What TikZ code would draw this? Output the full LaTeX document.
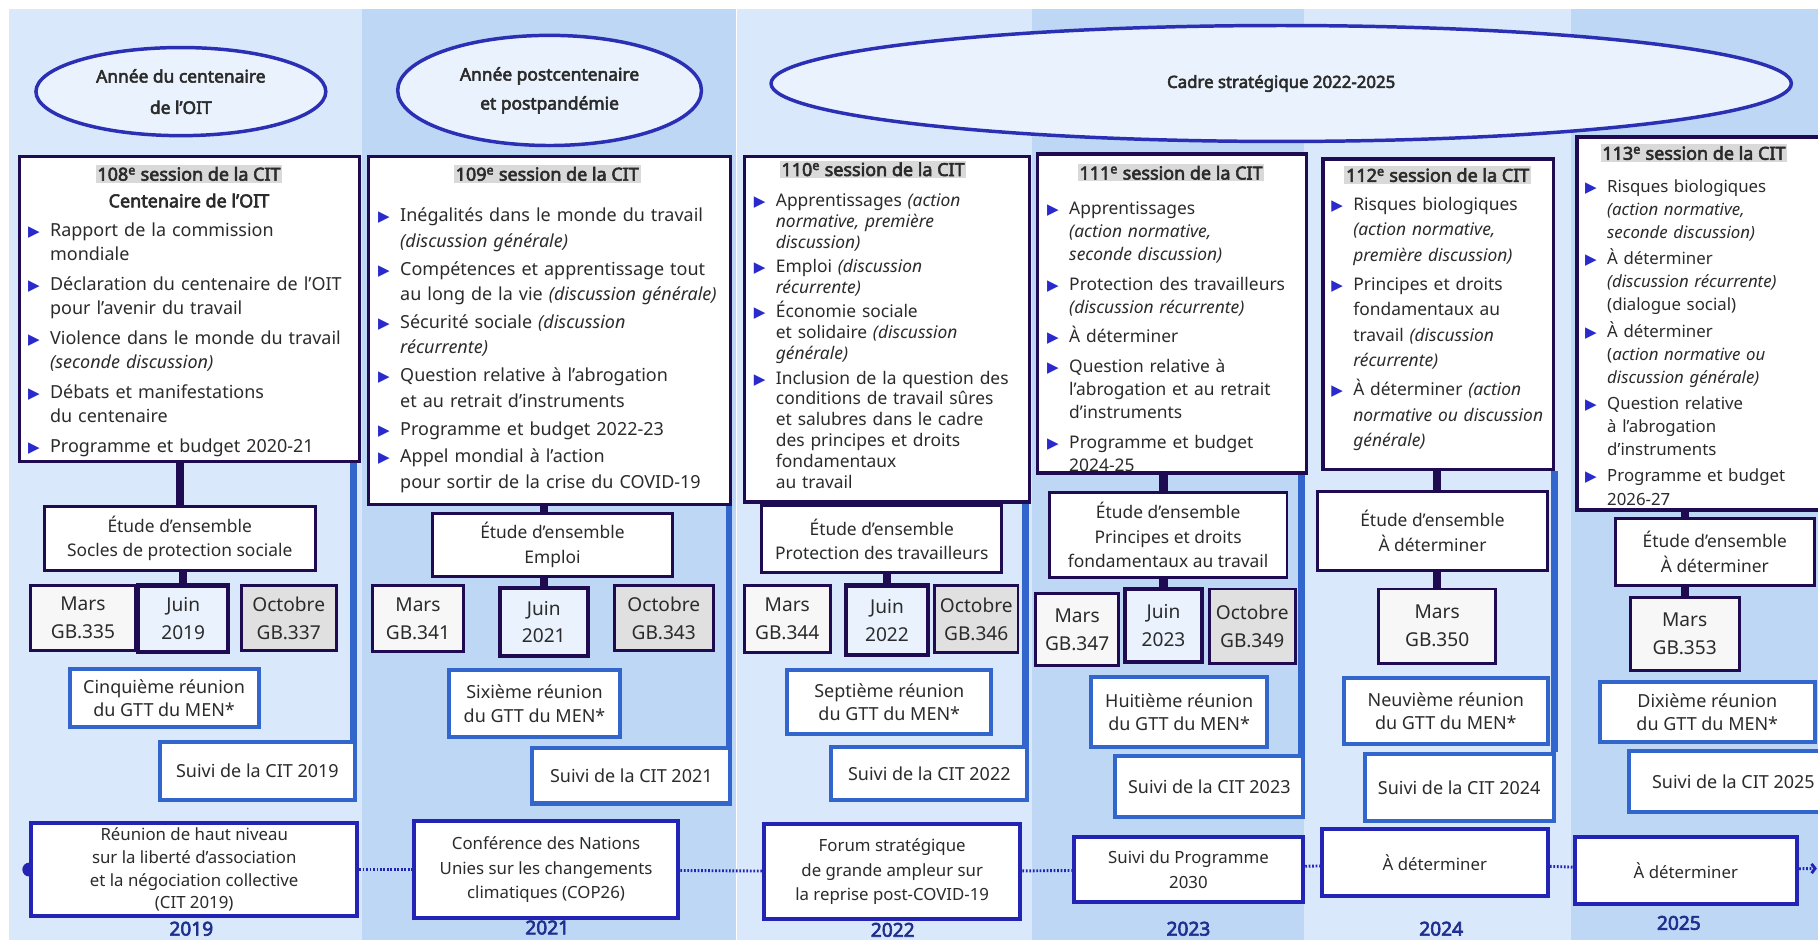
\documentclass[tikz,border=0pt]{standalone}
\usepackage{fontspec}
\setmainfont{Noto Sans}[AutoFakeBold=3.2]
\newfontfamily\trifont{DejaVu Sans}
\usetikzlibrary{fit,shapes.geometric,arrows.meta}

\definecolor{bglight}{HTML}{DAE8FC}
\definecolor{bgdark}{HTML}{BDD7F5}
\definecolor{ellfill}{HTML}{EAF3FD}
\definecolor{ellline}{HTML}{2B2FB3}
\definecolor{sessline}{HTML}{1F0B52}
\definecolor{titlegray}{HTML}{D9D9D9}
\definecolor{tri}{HTML}{2A2ACC}
\definecolor{gttline}{HTML}{3366CC}
\definecolor{botline}{HTML}{2323B5}
\definecolor{yearc}{HTML}{1F2F8F}
\definecolor{marsfill}{HTML}{F7F7F7}
\definecolor{juinfill}{HTML}{EAF3FD}
\definecolor{octfill}{HTML}{E0E0E0}
\definecolor{txt}{HTML}{2B2B2B}

% one bullet of a session list
\newcommand{\itm}[1]{\par\hangindent=19pt\hangafter=1\noindent
  \hbox to 19pt{\textcolor{tri}{\trifont\fontsize{13}{13}\selectfont ▶}\hfil}#1}

\pgfdeclarelayer{bg}
\pgfsetlayers{bg,main}

\begin{document}
\begin{tikzpicture}[x=1pt,y=-1pt,
  sz/.style 2 args={minimum width=#1pt,minimum height=#2pt},
  ell/.style={ellipse,draw=ellline,line width=3pt,fill=ellfill,inner sep=0pt,align=center,text=txt,font=\bfseries\fontsize{15}{27}\selectfont},
  sess/.style={draw=sessline,line width=3pt,fill=white,inner sep=0pt},
  ttl/.style={fill=titlegray,inner sep=1.5pt,text=txt,font=\bfseries\fontsize{15.5}{18}\selectfont},
  items/.style={anchor=north west,inner sep=0pt,align=left,text=txt},
  etude/.style={draw=sessline,line width=2.5pt,fill=white,inner sep=0pt,align=center,text=txt,font=\fontsize{15}{21}\selectfont},
  month/.style={draw=sessline,line width=2.5pt,inner sep=0pt,align=center,text=txt,font=\fontsize{16.5}{24}\selectfont},
  mars/.style={month,fill=marsfill},
  juin/.style={month,fill=juinfill,line width=3.5pt},
  oct/.style={month,fill=octfill},
  gtt/.style={draw=gttline,line width=3.5pt,fill=white,inner sep=0pt,align=center,text=txt,font=\fontsize{15.5}{20}\selectfont},
  bottom/.style={draw=botline,line width=3.5pt,fill=white,inner sep=0pt,align=center,text=txt,font=\fontsize{14.5}{21}\selectfont},
  year/.style={text=yearc,font=\bfseries\fontsize{16.5}{18}\selectfont},
  conn/.style={sessline,line width=7pt},
  blueline/.style={gttline,line width=6pt},
  dotline/.style={botline,line width=2.5pt,dash pattern=on 1.5pt off 1.5pt}]

\useasboundingbox (0,0) rectangle (1568,811);

\begin{pgfonlayer}{bg}
  \fill[white] (0,0) rectangle (1568,811);
  \foreach \xa/\xb/\c in {8/312/bglight,312/635/bgdark,636/890/bglight,890/1125/bgdark,1125/1355/bglight,1355/1568/bgdark}
    \fill[\c] (\xa,8) rectangle (\xb,811);
\end{pgfonlayer}

% years
\node[ell,sz={250}{76}] (a1) at (156,79) {Année du centenaire\\de l’OIT};
\node[ell,sz={262}{95},font=\bfseries\fontsize{15}{25}\selectfont] (a2) at (474,78) {Année postcentenaire\\et postpandémie};
\node[ell,sz={880}{100},font=\bfseries\fontsize{14.5}{18}\selectfont] (a3) at (1105,72) {Cadre stratégique 2022-2025};

% sessions
\node[sess,fit={(17,135) (310,398)}] (s108) {};
\node[sess,fit={(318,135) (630,435)}] (s109) {};
\node[sess,fit={(642,135) (888,433)}] (s110) {};
\node[sess,fit={(895,133) (1127,408)}] (s111) {};
\node[sess,fit={(1141,137) (1340,405)}] (s112) {};
\node[sess,fit={(1360,118) (1590,440)}] (s113) {};

\node[ttl] (t108) at (163,150) {108\textsuperscript{e} session de la CIT};
\node[ttl] (t109) at (472,150) {109\textsuperscript{e} session de la CIT};
\node[ttl] (t110) at (753,146) {110\textsuperscript{e} session de la CIT};
\node[ttl] (t111) at (1010,149) {111\textsuperscript{e} session de la CIT};
\node[ttl] (t112) at (1240,151) {112\textsuperscript{e} session de la CIT};
\node[ttl] (t113) at (1461,132) {113\textsuperscript{e} session de la CIT};
\node[text=txt,inner sep=0pt,font=\bfseries\fontsize{15.5}{18}\selectfont] (c108) at (163,173) {Centenaire de l’OIT};

\node[items,text width=283pt,font=\fontsize{15.5}{20.5}\selectfont] (l108) at (24,178) {\setlength{\parskip}{5.5pt}%
  \itm{Rapport de la commission\newline mondiale}%
  \itm{Déclaration du centenaire de l’OIT\newline pour l’avenir du travail}%
  \itm{Violence dans le monde du travail\newline \textit{(seconde discussion)}}%
  \itm{Débats et manifestations\newline du centenaire}%
  \itm{Programme et budget 2020-21}\par};

\node[items,text width=301pt,font=\fontsize{15.5}{22}\selectfont] (l109) at (326,167) {\setlength{\parskip}{2pt}%
  \itm{Inégalités dans le monde du travail\newline \textit{(discussion générale)}}%
  \itm{Compétences et apprentissage tout\newline au long de la vie \textit{(discussion générale)}}%
  \itm{Sécurité sociale \textit{(discussion\newline récurrente)}}%
  \itm{Question relative à l’abrogation\newline et au retrait d’instruments}%
  \itm{Programme et budget 2022-23}%
  \itm{Appel mondial à l’action\newline pour sortir de la crise du COVID-19}\par};

\node[items,text width=236pt,font=\fontsize{15}{18}\selectfont] (l110) at (650,157) {\setlength{\parskip}{3pt}%
  \itm{Apprentissages \textit{(action\newline normative, première\newline discussion)}}%
  \itm{Emploi \textit{(discussion\newline récurrente)}}%
  \itm{Économie sociale\newline et solidaire \textit{(discussion\newline générale)}}%
  \itm{Inclusion de la question des\newline conditions de travail sûres\newline et salubres dans le cadre\newline des principes et droits\newline fondamentaux\newline au travail}\par};

\node[items,text width=222pt,font=\fontsize{15}{20}\selectfont] (l111) at (903,159) {\setlength{\parskip}{5.5pt}%
  \itm{Apprentissages\newline \textit{(action normative,\newline seconde discussion)}}%
  \itm{Protection des travailleurs\newline \textit{(discussion récurrente)}}%
  \itm{À déterminer}%
  \itm{Question relative à\newline l’abrogation et au retrait\newline d’instruments}%
  \itm{Programme et budget\newline 2024-25}\par};

\node[items,text width=196pt,font=\fontsize{15}{22}\selectfont] (l112) at (1148,156) {\setlength{\parskip}{3pt}%
  \itm{Risques biologiques\newline \textit{(action normative,\newline première discussion)}}%
  \itm{Principes et droits\newline fondamentaux au\newline travail \textit{(discussion\newline récurrente)}}%
  \itm{À déterminer \textit{(action\newline normative ou discussion\newline générale)}}\par};

\node[items,text width=205pt,font=\fontsize{14.5}{20}\selectfont] (l113) at (1367,143) {\setlength{\parskip}{2.5pt}%
  \itm{Risques biologiques\newline \textit{(action normative,\newline seconde discussion)}}%
  \itm{À déterminer\newline \textit{(discussion récurrente)}\newline (dialogue social)}%
  \itm{À déterminer\newline (\textit{action normative ou\newline discussion générale)}}%
  \itm{Question relative\newline à l’abrogation\newline d’instruments}%
  \itm{Programme et budget\newline 2026-27}\par};

% general surveys
\node[etude,sz={234}{55}] (e1) at (155,464.5) {Étude d’ensemble\\Socles de protection sociale};
\node[etude,sz={207}{54}] (e2) at (476.5,470) {Étude d’ensemble\\Emploi};
\node[etude,sz={207}{58}] (e3) at (760.5,465) {Étude d’ensemble\\Protection des travailleurs};
\node[etude,sz={205}{73}] (e4) at (1007.5,461.5) {Étude d’ensemble\\Principes et droits\\fondamentaux au travail};
\node[etude,sz={199}{68}] (e5) at (1235.5,458) {Étude d’ensemble\\À déterminer};
\node[etude,sz={172}{58}] (e6) at (1479,476) {Étude d’ensemble\\À déterminer};

% governing body
\node[mars,sz={91}{56}] (m1) at (71.5,533) {Mars\\GB.335};
\node[juin,sz={78}{57}] (j1) at (158,533.5) {Juin\\2019};
\node[oct,sz={82}{56}] (o1) at (249,533) {Octobre\\GB.337};
\node[mars,sz={79}{57}] (m2) at (360.5,533.5) {Mars\\GB.341};
\node[juin,sz={76}{59}] (j2) at (469,536.5) {Juin\\2021};
\node[oct,sz={85}{56}] (o2) at (572.5,533) {Octobre\\GB.343};
\node[mars,sz={74}{58}] (m3) at (679,534) {Mars\\GB.344};
\node[juin,sz={70}{60}] (j3) at (765,535) {Juin\\2022};
\node[oct,sz={72}{58}] (o3) at (842,534) {Octobre\\GB.346};
\node[mars,sz={72}{62}] (m4) at (929,543) {Mars\\GB.347};
\node[juin,sz={67}{63}] (j4) at (1003.5,539.5) {Juin\\2023};
\node[oct,sz={74}{64}] (o4) at (1080,540) {Octobre\\GB.349};
\node[mars,sz={101}{64}] (m5) at (1239.5,540) {Mars\\GB.350};
\node[mars,sz={94}{63}] (m6) at (1453,546.5) {Mars\\GB.353};

% working group
\node[gtt,sz={163}{50}] (g1) at (141.5,602) {Cinquième réunion\\du GTT du MEN*};
\node[gtt,sz={148}{58}] (g2) at (461,607) {Sixième réunion\\du GTT du MEN*};
\node[gtt,sz={176}{55}] (g3) at (767,605.5) {Septième réunion\\du GTT du MEN*};
\node[gtt,sz={152}{60}] (g4) at (1017,614) {Huitième réunion\\du GTT du MEN*};
\node[gtt,sz={176}{57}] (g5) at (1247,613.5) {Neuvième réunion\\du GTT du MEN*};
\node[gtt,sz={185}{52}] (g6) at (1472.5,614) {Dixième réunion\\du GTT du MEN*};

% follow-up
\node[gtt,sz={168}{50}] (u1) at (222,665) {Suivi de la CIT 2019};
\node[gtt,sz={171}{48}] (u2) at (544.5,669) {Suivi de la CIT 2021};
\node[gtt,sz={169}{46}] (u3) at (801.5,667) {Suivi de la CIT 2022};
\node[gtt,sz={162}{53}] (u4) at (1043,678.5) {Suivi de la CIT 2023};
\node[gtt,sz={163}{58}] (u5) at (1258.5,679) {Suivi de la CIT 2024};
\node[gtt,sz={180}{52}] (u6) at (1495,674) {Suivi de la CIT 2025};

% other events
\node[bottom,sz={281}{80},font=\fontsize{14.5}{19.5}\selectfont] (b1) at (167.5,750) {Réunion de haut niveau\\sur la liberté d’association\\et la négociation collective\\(CIT 2019)};
\node[bottom,sz={228}{84}] (b2) at (471,750) {Conférence des Nations\\Unies sur les changements\\climatiques (COP26)};
\node[bottom,sz={221}{82}] (b3) at (769.5,752) {Forum stratégique\\de grande ampleur sur\\la reprise post-COVID-19};
\node[bottom,sz={198}{56}] (b4) at (1025,750) {Suivi du Programme\\2030};
\node[bottom,sz={195}{58}] (b5) at (1237.5,744) {À déterminer};
\node[bottom,sz={192}{58}] (b6) at (1454,751) {À déterminer};
\coordinate (tail) at (1567,749);

\node[year] (y1) at (165,801) {2019};
\node[year] (y2) at (472,800) {2021};
\node[year] (y3) at (770,802) {2022};
\node[year] (y4) at (1025,801) {2023};
\node[year] (y5) at (1243,801) {2024};
\node[year] (y6) at (1448,796) {2025};

\begin{pgfonlayer}{bg}
  \draw[conn] (e1.north) -- (e1.north |- s108.south);
  \draw[conn] (j1.north) -- (j1.north |- e1.south);
  \draw[conn] (j2.north |- s109.south) -- (j2.north |- e2.north);
  \draw[conn] (j2.north) -- (j2.north |- e2.south);
  \draw[conn] (j3.north |- s110.south) -- (j3.north |- e3.north);
  \draw[conn] (j3.north) -- (j3.north |- e3.south);
  \draw[conn] (j4.north |- s111.south) -- (j4.north |- e4.north);
  \draw[conn] (j4.north) -- (j4.north |- e4.south);
  \draw[conn] (m5.north |- s112.south) -- (m5.north |- e5.north);
  \draw[conn] (m5.north) -- (m5.north |- e5.south);
  \draw[conn] (m6.north |- s113.south) -- (m6.north |- e6.north);
  \draw[conn] (m6.north) -- (m6.north |- e6.south);
  % follow-up lines
  \draw[blueline] ([xshift=-3pt]u1.north east) -- ([xshift=-3pt]u1.north east |- s108.south);
  \draw[blueline] ([xshift=-3pt]u2.north east) -- ([xshift=-3pt]u2.north east |- s109.south);
  \draw[blueline] ([xshift=-3pt]u3.north east) -- ([xshift=-3pt]u3.north east |- s110.south);
  \draw[blueline] ([xshift=-3pt]u4.north east) -- ([xshift=-3pt]u4.north east |- s111.south);
  \draw[blueline] ([xshift=-1pt]u5.north east) -- ([xshift=-1pt]u5.north east |- s112.south);
  % timeline
  \fill[botline] (b1.west) circle (6pt);
  \draw[dotline] (b1) -- (b2);
  \draw[dotline] (b2) -- (b3);
  \draw[dotline] (b3) -- (b4);
  \draw[dotline] (b4) -- (b5);
  \draw[dotline] (b5) -- (b6);
  \draw[dotline,-{Straight Barb[length=3pt,width=8pt]}] (b6) -- (tail);
\end{pgfonlayer}
\end{tikzpicture}
\end{document}
